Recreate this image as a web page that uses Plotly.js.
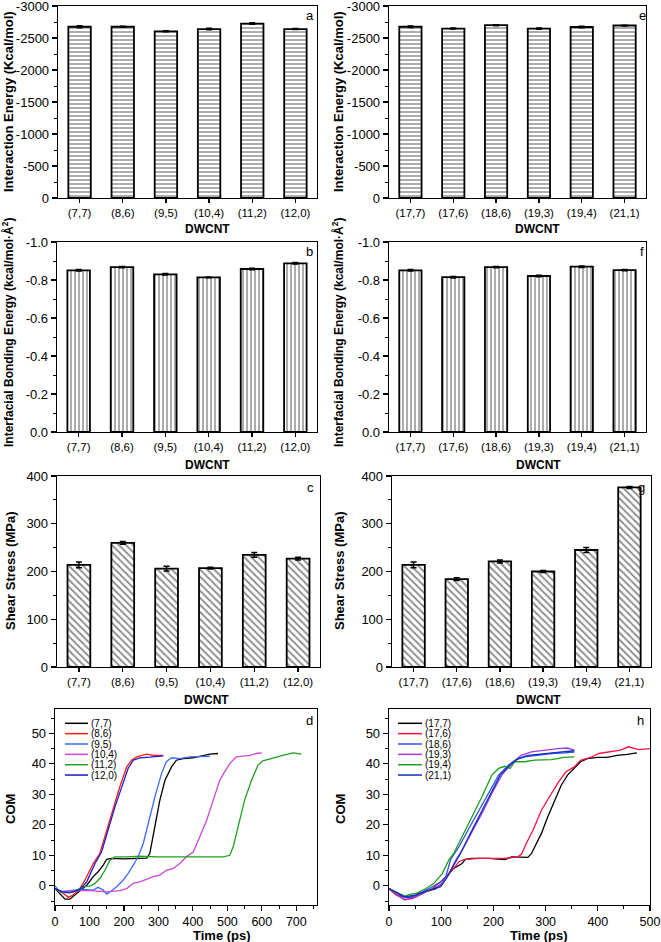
<!DOCTYPE html>
<html>
<head>
<meta charset="utf-8">
<script src="https://cdn.plot.ly/plotly-3.0.1.min.js"></script>
<style>html,body{margin:0;padding:0;background:#fff;}#chart{width:661px;height:942px;}</style>
</head>
<body>
<div id="chart"></div>
<script>
// ---------------- DATA ----------------
const catsLeft = ['(7,7)','(8,6)','(9,5)','(10,4)','(11,2)','(12,0)'];
const catsRight = ['(17,7)','(17,6)','(18,6)','(19,3)','(19,4)','(21,1)'];

const energyLeft = [-2676,-2676,-2605,-2640,-2725,-2640];
const energyLeftErr = [15,8,8,12,12,8];
const energyRight = [-2676,-2648,-2700,-2645,-2672,-2695];
const energyRightErr = [12,8,8,10,10,6];

const bondLeft = [-0.851,-0.868,-0.830,-0.814,-0.858,-0.888];
const bondLeftErr = [0.004,0.003,0.004,0.002,0.004,0.004];
const bondRight = [-0.851,-0.815,-0.868,-0.821,-0.870,-0.852];
const bondRightErr = [0.004,0.004,0.003,0.004,0.004,0.003];

const shearLeft = [214,260,206,207,235,227];
const shearLeftErr = [6,3,5,2,5,3];
const shearRight = [214,184,221,200,245,376];
const shearRightErr = [6,3,3,2,5,2];

const energyTickVals = [0,-500,-1000,-1500,-2000,-2500,-3000];
const energyTickText = ['0','-500','-1000','-1500','-2000','-2500','-3000'];
const bondTickVals = [0,-0.2,-0.4,-0.6,-0.8,-1.0];
const bondTickText = ['0.0','-0.2','-0.4','-0.6','-0.8','-1.0'];

// COM vs time, panel d
const d77t = [0,29,43,63,77,92,111,125,140,150,164,200,240,266,275,290,304,319,338,352,372,400,430,449,473];
const d77y = [-0.9,-4.4,-4.4,-2.5,-1.4,0.2,3,4.6,6.8,8.7,9,8.8,9,9.1,10.6,19.3,28,34.6,39,41.2,41.7,42,42.8,43.2,43.4];
const d86t = [0,24,39,53,72,87,101,111,130,150,169,188,208,222,237,266,285,314];
const d86y = [-0.9,-2.5,-3.8,-3,-0.9,1.9,5.1,7.3,10.6,18.3,25.9,32.5,39,41.2,42.3,43.2,42.8,42.8];
const d95t = [0,14,43,82,111,125,140,150,164,179,198,212,227,241,256,270,290,309,323,338,362,391,420,449];
const d95y = [0,-2,-1.6,-1.2,-1.4,-0.5,-1.4,-2.7,-1.6,-0.3,1.9,4,6.8,9.5,13.9,20.4,29.2,36.8,40.7,42,41.7,42.3,42.5,42.5];
const d104t = [0,14,53,101,150,188,208,227,246,266,285,304,323,343,362,381,401,420,440,459,478,492,507,526,546,565,584,600];
const d104y = [-0.9,-2,-1.6,-1.6,-2,-1.6,-0.9,0.8,1.3,2.2,3,3.5,5.1,5.7,7.3,9.5,11.1,16.1,21.5,28.1,34.6,37.4,40.1,42.3,42.5,42.8,43.4,43.6];
const d112t = [0,24,53,82,101,116,130,145,159,174,208,246,295,343,391,439,488,507,517,531,550,570,589,603,623,642,661,690,715];
const d112y = [-0.9,-2.3,-2,-0.3,-0.1,0.8,2.4,5.1,8.4,9.5,9.5,9.7,9.5,9.5,9.5,9.3,9.5,10,12.8,19.3,28.1,34.6,39.6,41,41.7,42.3,42.8,43.6,43.2];
const d120t = [0,24,43,72,92,106,116,135,155,174,193,212,227,246,275,314];
const d120y = [-0.9,-2,-2.3,-1.2,1.3,5.1,7.3,11.1,18.8,25.9,32.2,38.5,41.2,42,42.2,42.6];

// COM vs time, panel h
const h177t = [0,14,33,45,58,77,90,102,115,124,134,140,146,159,191,222,235,247,260,266,273,282,292,304,317,330,342,355,367,380,399,418,437,456,475];
const h177y = [-0.9,-3,-3.8,-3.8,-2.5,-1.4,-0.9,0.8,4,5.7,6.6,7.3,8.7,9,9,8.6,9.5,9.5,9.5,9.3,10.6,13.9,17.2,22.6,28.1,33,36.3,38.5,40.7,41.7,42.1,42.1,42.8,43.1,43.6];
const h176t = [0,14,30,45,64,83,99,112,124,134,143,172,222,247,254,263,276,292,307,323,339,355,367,386,402,424,443,459,478,500];
const h176y = [-0.9,-3,-4.5,-4.2,-2.5,-0.9,1.3,3.5,5.7,7.9,8.6,9,9,9.5,10.4,13.9,18.3,24.8,29.2,33.6,37.4,39,41.2,42.1,43.4,43.9,44.5,45.6,44.7,45];
const h186t = [0,30,45,64,83,99,109,118,134,153,172,191,210,229,241,260,285,311,336,355];
const h186y = [-0.9,-3.8,-3.6,-2,-0.3,1.3,3,8.6,12.8,18.8,24.8,30.8,36.3,39.6,41.2,42.3,42.8,43.4,43.6,43.9];
const h193t = [0,30,52,77,99,115,128,140,159,178,197,216,235,253,273,298,323,342,355];
const h193y = [-0.9,-4.7,-3.6,-1.4,0.2,4,8.4,11.7,17.7,23.7,30.3,36.3,40.1,42.8,43.9,44.5,45,45.2,44.5];
const h194t = [0,30,42,52,71,86,102,115,124,140,159,178,197,210,222,232,241,260,279,311,336,355];
const h194y = [-0.9,-3.4,-2.7,-2.5,-0.9,0.8,4,8.6,10.6,16.1,22.6,29.2,36.3,38.5,39.2,38.5,40.7,40.7,41.2,41.4,42.1,42.3];
const h211t = [0,30,52,77,99,112,124,137,156,175,194,213,232,247,266,298,330,355];
const h211y = [-0.9,-3.6,-3,-1.4,-0.3,3,6.8,10.6,17.2,23.7,30.3,36.3,39.6,41.7,42.8,43.4,43.9,44.3];

const leftNames = ['(7,7)','(8,6)','(9,5)','(10,4)','(11,2)','(12,0)'];
const leftColors = ['#000000','#ff1a1a','#3a6cff','#c848d8','#1ea01e','#1a1ad0'];
const rightNames = ['(17,7)','(17,6)','(18,6)','(19,3)','(19,4)','(21,1)'];
const rightColors = ['#000000','#ff1040','#3050e8','#a838e0','#18a018','#1030c0'];

// ---------------- LAYOUT HELPERS ----------------
const W = 661, H = 942;
const FONT = 'Liberation Sans, Arial, sans-serif';
const px = v => v / W;
const py = v => 1 - v / H;

const boxes = {
  a: {x:[58,317], y:[6,198]},
  e: {x:[389,646], y:[6,198]},
  b: {x:[57,317], y:[242,432]},
  f: {x:[389,646], y:[242,432]},
  c: {x:[57,320], y:[476,667]},
  g: {x:[392,651], y:[476,667]},
  d: {x:[55,317], y:[709,905]},
  h: {x:[389,650], y:[709,905]}
};
function dom(b){ return {x:[px(b.x[0]),px(b.x[1])], y:[py(b.y[1]),py(b.y[0])]}; }

const axisBase = {
  showline:true, linecolor:'black', linewidth:1.3, mirror:true,
  ticks:'outside', tickcolor:'black', tickwidth:1.2, ticklen:5,
  showgrid:false, zeroline:false, fixedrange:true, ticklabeloverflow:'allow',
  tickfont:{family:FONT, size:13, color:'black'}
};

function xCat(key, anchor){
  const d = dom(boxes[key]);
  return Object.assign({}, axisBase, {domain:d.x, anchor:anchor, type:'category', range:[-0.5,5.5],
    ticklen:4, tickfont:{family:FONT, size:11.5, color:'black'}});
}
function yAx(key, anchor, extra){
  const d = dom(boxes[key]);
  return Object.assign({}, axisBase, {domain:d.y, anchor:anchor}, extra);
}

function barTrace(cats, vals, errs, xa, ya, shape, psize){
  return {
    type:'bar', x:cats, y:vals, xaxis:xa, yaxis:ya, width:0.52, showlegend:false,
    marker:{color:'white', line:{color:'black', width:1.8},
      pattern:{shape:shape, fgcolor:'#8a8a8a', bgcolor:'white', size:psize, solidity:0.35}},
    error_y:{type:'data', array:errs, visible:true, color:'black', thickness:1.5, width:3}
  };
}

const traces = [
  barTrace(catsLeft, energyLeft, energyLeftErr, 'x', 'y', '-', 4),
  barTrace(catsRight, energyRight, energyRightErr, 'x2', 'y2', '-', 4),
  barTrace(catsLeft, bondLeft, bondLeftErr, 'x3', 'y3', '|', 4),
  barTrace(catsRight, bondRight, bondRightErr, 'x4', 'y4', '|', 4),
  barTrace(catsLeft, shearLeft, shearLeftErr, 'x5', 'y5', '\\', 5),
  barTrace(catsRight, shearRight, shearRightErr, 'x6', 'y6', '\\', 5)
];

const leftSeries = [[d77t,d77y],[d86t,d86y],[d95t,d95y],[d104t,d104y],[d112t,d112y],[d120t,d120y]];
const rightSeries = [[h177t,h177y],[h176t,h176y],[h186t,h186y],[h193t,h193y],[h194t,h194y],[h211t,h211y]];
leftSeries.forEach((s,i)=>traces.push({type:'scatter', mode:'lines', x:s[0], y:s[1], xaxis:'x7', yaxis:'y7',
  name:leftNames[i], showlegend:false, line:{color:leftColors[i], width:1.3}}));
rightSeries.forEach((s,i)=>traces.push({type:'scatter', mode:'lines', x:s[0], y:s[1], xaxis:'x8', yaxis:'y8',
  name:rightNames[i], showlegend:false, line:{color:rightColors[i], width:1.3}}));

const energyY = {range:[0,-3000], tickmode:'array', tickvals:energyTickVals, ticktext:energyTickText,
  minor:{dtick:250, ticklen:3, tickcolor:'black', tickwidth:1, ticks:'outside'}};
const bondY = {range:[0,-1.0], tickmode:'array', tickvals:bondTickVals, ticktext:bondTickText,
  minor:{dtick:0.1, ticklen:3, tickcolor:'black', tickwidth:1, ticks:'outside'}};
const shearY = {range:[0,400], dtick:100, minor:{dtick:50, ticklen:3, tickcolor:'black', tickwidth:1, ticks:'outside'}};
const comY = {range:[-6.3,58], dtick:10, tick0:0, minor:{dtick:5, ticklen:3, tickcolor:'black', tickwidth:1, ticks:'outside'}};

function xLin(key, anchor, range){
  const d = dom(boxes[key]);
  return Object.assign({}, axisBase, {domain:d.x, anchor:anchor, range:range, dtick:100, tick0:0,
    tickfont:{family:FONT, size:12.5, color:'black'},
    minor:{dtick:50, ticklen:3, tickcolor:'black', tickwidth:1, ticks:'outside'}});
}

const layout = {
  width:W, height:H, margin:{l:0,r:0,t:0,b:0}, paper_bgcolor:'white', plot_bgcolor:'white',
  showlegend:false, bargap:0.48,
  font:{family:FONT, color:'black'},
  xaxis: xCat('a','y'), yaxis: yAx('a','x',energyY),
  xaxis2: xCat('e','y2'), yaxis2: yAx('e','x2',energyY),
  xaxis3: xCat('b','y3'), yaxis3: yAx('b','x3',bondY),
  xaxis4: xCat('f','y4'), yaxis4: yAx('f','x4',bondY),
  xaxis5: xCat('c','y5'), yaxis5: yAx('c','x5',shearY),
  xaxis6: xCat('g','y6'), yaxis6: yAx('g','x6',shearY),
  xaxis7: xLin('d','y7',[0,760]), yaxis7: yAx('d','x7',comY),
  xaxis8: xLin('h','y8',[0,500]), yaxis8: yAx('h','x8',comY),
  annotations:[], shapes:[]
};

function ann(text, x, y, opts){
  layout.annotations.push(Object.assign({text:text, x:px(x), y:py(y), xref:'paper', yref:'paper',
    showarrow:false, xanchor:'center', yanchor:'middle',
    font:{family:FONT, size:12, color:'black'}}, opts||{}));
}
const bold = {family:FONT, size:13, color:'black'};
const bold12 = {family:FONT, size:12, color:'black'};
// y-axis titles
ann('<b>Interaction Energy (Kcal/mol)</b>', 9, 102, {textangle:-90, font:bold});
ann('<b>Interaction Energy (Kcal/mol)</b>', 339, 102, {textangle:-90, font:bold});
ann('<b>Interfacial Bonding Energy (kcal/mol·Å<sup>2</sup>)</b>', 8, 333, {textangle:-90, font:bold12});
ann('<b>Interfacial Bonding Energy (kcal/mol·Å<sup>2</sup>)</b>', 338, 333, {textangle:-90, font:bold12});
ann('<b>Shear Stress (MPa)</b>', 10, 571, {textangle:-90, font:bold});
ann('<b>Shear Stress (MPa)</b>', 339, 571, {textangle:-90, font:bold});
ann('<b>COM</b>', 10, 809, {textangle:-90, font:bold});
ann('<b>COM</b>', 340, 809, {textangle:-90, font:bold});
// x-axis titles
const xb = {family:FONT, size:12, color:'black'};
ann('<b>DWCNT</b>', 207, 229, {font:xb});
ann('<b>DWCNT</b>', 537, 229, {font:xb});
ann('<b>DWCNT</b>', 207, 465, {font:xb});
ann('<b>DWCNT</b>', 538, 465, {font:xb});
ann('<b>DWCNT</b>', 206, 700, {font:xb});
ann('<b>DWCNT</b>', 538, 700, {font:xb});
ann('<b>Time (ps)</b>', 222, 935, {font:{family:FONT, size:13, color:'black'}});
ann('<b>Time (ps)</b>', 539, 935, {font:{family:FONT, size:13, color:'black'}});
// panel letters
[['a',310,16],['e',642,16],['b',309,251],['f',642,252],['c',310,487],['g',641,487],['d',309,720],['h',640,720]]
  .forEach(p=>ann(p[0], p[1], p[2], {font:{family:FONT, size:13, color:'black'}}));

// manual compact legends (position in axis-domain fractions)
function legend(names, colors, key, xa, ya, lineStartPx, lineEndPx, textPx){
  const b = boxes[key];
  const wpx = b.x[1]-b.x[0], hpx = b.y[1]-b.y[0];
  names.forEach((n,i)=>{
    const rowPx = 723.3 + i*10.35;
    const yd = (b.y[1]-rowPx)/hpx;
    layout.shapes.push({type:'line', xref:xa+' domain', yref:ya+' domain',
      x0:(lineStartPx-b.x[0])/wpx, x1:(lineEndPx-b.x[0])/wpx, y0:yd, y1:yd,
      line:{color:colors[i], width:1.5}});
    layout.annotations.push({text:n, xref:xa+' domain', yref:ya+' domain', x:(textPx-b.x[0])/wpx, y:yd,
      xanchor:'left', yanchor:'middle', showarrow:false, font:{family:FONT, size:10, color:'black'}});
  });
}
legend(leftNames, leftColors, 'd', 'x7', 'y7', 65, 88, 89);
legend(rightNames, rightColors, 'h', 'x8', 'y8', 398, 422, 423);

Plotly.newPlot('chart', traces, layout, {staticPlot:true, displayModeBar:false});
</script>
</body>
</html>
